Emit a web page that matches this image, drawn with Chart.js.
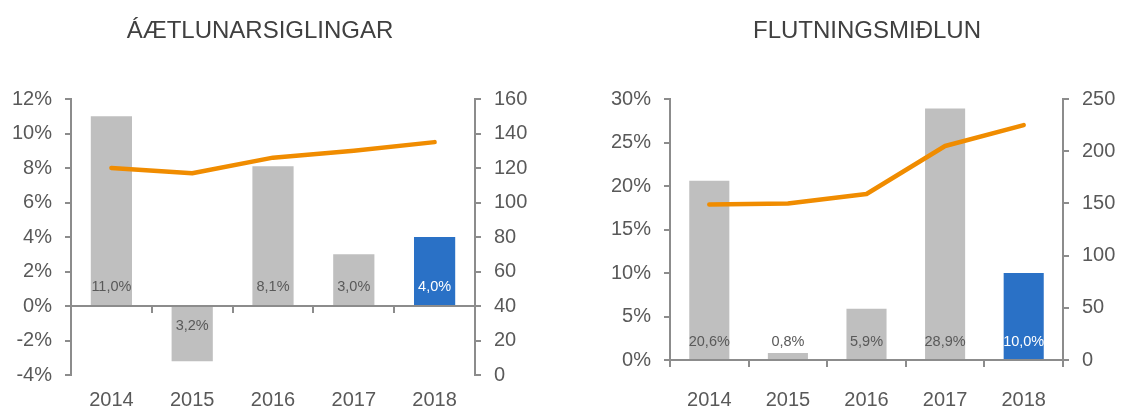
<!DOCTYPE html>
<html>
<head>
<meta charset="utf-8">
<script src="https://cdn.jsdelivr.net/npm/chart.js@4/dist/chart.umd.min.js"></script>
<style>
  body { margin: 0; background: #fff; }
  .wrap { display: flex; width: 1124px; height: 410px; }
  canvas { display: block; }
</style>
</head>
<body>
<div class="wrap">
  <canvas id="aetlunChart" width="562" height="410"></canvas>
  <canvas id="flutnChart" width="562" height="410"></canvas>
</div>
<script>
const years = ['2014', '2015', '2016', '2017', '2018'];

// Áætlunarsiglingar: vöxtur (%) og magn (hægri ás)
const aetlunGrowth = [11.0, -3.2, 8.1, 3.0, 4.0];
const aetlunVolume = [120, 117, 126, 130, 135];
const aetlunPctRange = [-4, 12, 2];
const aetlunVolRange = [0, 160, 20];

// Flutningsmiðlun
const flutnGrowth = [20.6, 0.8, 5.9, 28.9, 10.0];
const flutnVolume = [149, 150, 159, 205, 225];
const flutnPctRange = [0, 30, 5];
const flutnVolRange = [0, 250, 50];

const FONT = '"Liberation Sans", Arial, sans-serif';
const GREY_BAR = '#bfbfbf';
const BLUE_BAR = '#2a71c6';
const ORANGE = '#f08c00';
const AXIS = '#8c8c8c';
const TEXT = '#595959';

// titill teiknaður yfir hvorn hluta
const panelTitle = {
    id: 'panelTitle',
    afterDraw(chart, args, opts) {
        const ctx = chart.ctx;
        ctx.save();
        ctx.font = opts.size + 'px ' + FONT;
        ctx.fillStyle = '#404040';
        ctx.textAlign = 'center';
        ctx.textBaseline = 'middle';
        ctx.fillText(opts.text, opts.x, opts.y);
        ctx.restore();
    }
};

// prósentumerki neðst í súlunum (án formerkis, eins og í frumritinu)
const barLabels = {
    id: 'barLabels',
    afterDatasetsDraw(chart, args, opts) {
        const meta = chart.getDatasetMeta(0);
        const values = chart.data.datasets[0].data;
        const zero = chart.scales.y.getPixelForValue(0);
        const ctx = chart.ctx;
        ctx.save();
        ctx.font = '14.5px ' + FONT;
        ctx.textAlign = 'center';
        ctx.textBaseline = 'middle';
        meta.data.forEach((bar, i) => {
            const v = values[i];
            ctx.fillStyle = i === values.length - 1 ? '#ffffff' : TEXT;
            const y = v < 0 ? zero + 20 : zero - opts.offset;
            ctx.fillText(Math.abs(v).toFixed(1).replace('.', ',') + '%', bar.x, y);
        });
        ctx.restore();
    }
};

function makeChart(id, growth, volume, pctRange, volRange, o) {
    const ctx = document.getElementById(id).getContext('2d');
    return new Chart(ctx, {
        type: 'bar',
        data: {
            labels: years,
            datasets: [{
                type: 'bar',
                data: growth,
                backgroundColor: growth.map((v, i) => i === growth.length - 1 ? BLUE_BAR : GREY_BAR),
                barPercentage: 1,
                categoryPercentage: 0.51,
                yAxisID: 'y',
                order: 2
            }, {
                type: 'line',
                data: volume,
                borderColor: ORANGE,
                borderWidth: 4.5,
                borderCapStyle: 'round',
                borderJoinStyle: 'round',
                pointRadius: 0,
                tension: 0,
                yAxisID: 'y1',
                order: 1
            }]
        },
        plugins: [panelTitle, barLabels],
        options: {
            responsive: false,
            animation: false,
            layout: { padding: { top: 99, bottom: 0, left: 0, right: 0 } },
            plugins: {
                legend: { display: false },
                tooltip: { enabled: false },
                panelTitle: { text: o.title, x: o.titleX, y: 31, size: 24 },
                barLabels: { offset: o.labelOffset }
            },
            scales: {
                x: {
                    position: 'bottom',
                    offset: true,
                    grid: { display: false, drawTicks: false },
                    border: { display: false },
                    ticks: { color: TEXT, font: { size: 20, family: FONT }, padding: o.xPad },
                    afterFit: s => { s.height = o.xHeight; }
                },
                xz: {
                    type: 'category',
                    labels: years,
                    position: { y: 0 },
                    offset: true,
                    grid: { offset: true, drawOnChartArea: false, drawTicks: true, tickLength: 6, color: AXIS, lineWidth: 2 },
                    border: { display: true, color: AXIS, width: 2 },
                    ticks: { display: false }
                },
                y: {
                    position: 'left',
                    min: pctRange[0], max: pctRange[1],
                    grid: { drawOnChartArea: false, drawTicks: true, tickLength: 6, tickColor: AXIS, lineWidth: 2 },
                    border: { display: true, color: AXIS, width: 2 },
                    ticks: {
                        stepSize: pctRange[2], color: TEXT, padding: 13,
                        font: { size: 20, family: FONT },
                        callback: v => v + '%'
                    },
                    afterFit: s => { s.width = o.yWidth; }
                },
                y1: {
                    position: 'right',
                    min: volRange[0], max: volRange[1],
                    grid: { drawOnChartArea: false, drawTicks: true, tickLength: 6, tickColor: AXIS, lineWidth: 2 },
                    border: { display: true, color: AXIS, width: 2 },
                    ticks: { stepSize: volRange[2], color: TEXT, padding: 13, font: { size: 20, family: FONT } },
                    afterFit: s => { s.width = o.y1Width; }
                }
            }
        }
    });
}

makeChart('aetlunChart', aetlunGrowth, aetlunVolume, aetlunPctRange, aetlunVolRange, {
    title: 'ÁÆTLUNARSIGLINGAR', titleX: 260, yWidth: 71, y1Width: 87, xHeight: 35, xPad: 13, labelOffset: 19
});
makeChart('flutnChart', flutnGrowth, flutnVolume, flutnPctRange, flutnVolRange, {
    title: 'FLUTNINGSMIÐLUN', titleX: 305, yWidth: 108, y1Width: 61, xHeight: 50, xPad: 28, labelOffset: 18
});
</script>
</body>
</html>
